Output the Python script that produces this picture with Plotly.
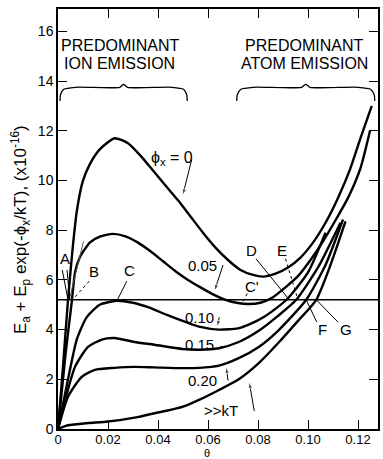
import plotly.graph_objects as go

# ---------------- data ----------------
theta_phi0 = [0, 0.002, 0.004, 0.0056, 0.0075, 0.0099, 0.0127, 0.0167, 0.0226, 0.028, 0.033,
              0.038, 0.043, 0.048, 0.053, 0.058, 0.063, 0.068, 0.073, 0.078, 0.082, 0.087,
              0.092, 0.097, 0.102, 0.107, 0.112, 0.117, 0.121, 0.1255]
y_phi0 = [0, 2.5, 5.2, 7.0, 8.75, 9.96, 10.65, 11.25, 11.7, 11.5, 11.0,
          10.4, 9.8, 9.2, 8.55, 7.9, 7.3, 6.8, 6.4, 6.2, 6.13, 6.25,
          6.5, 6.9, 7.5, 8.3, 9.3, 10.5, 11.7, 13.0]

theta_phi05 = [0, 0.003, 0.0056, 0.0068, 0.0087, 0.0127, 0.0167, 0.022, 0.027, 0.032, 0.037,
               0.042, 0.047, 0.052, 0.057, 0.062, 0.067, 0.072, 0.076, 0.081, 0.086, 0.091,
               0.096, 0.101, 0.106, 0.111, 0.116, 0.121, 0.1248]
y_phi05 = [0, 3.0, 5.2, 6.3, 6.9, 7.5, 7.74, 7.85, 7.75, 7.5, 7.15,
           6.75, 6.35, 6.0, 5.7, 5.42, 5.2, 5.07, 5.03, 5.08, 5.3, 5.7,
           6.15, 6.8, 7.55, 8.4, 9.3, 10.5, 12.0]

theta_phi10 = [0, 0.004, 0.0075, 0.0115, 0.0167, 0.0234, 0.03, 0.0366, 0.0433, 0.0512, 0.0564,
               0.0644, 0.072, 0.0763, 0.083, 0.0914, 0.1, 0.107]
y_phi10 = [0, 2.0, 3.6, 4.5, 5.0, 5.16, 5.08, 4.88, 4.6, 4.3, 4.12,
           4.0, 4.05, 4.2, 4.55, 5.2, 6.3, 7.9]

theta_phi15 = [0, 0.0068, 0.012, 0.0175, 0.0226, 0.0306, 0.0385, 0.0497, 0.0564, 0.0644, 0.0723,
               0.0803, 0.088, 0.0953, 0.104, 0.113]
y_phi15 = [0, 2.5, 3.3, 3.6, 3.66, 3.5, 3.39, 3.22, 3.19, 3.25, 3.5,
           3.95, 4.55, 5.2, 6.5, 8.3]

theta_phi20 = [0, 0.004, 0.0095, 0.0147, 0.0226, 0.0306, 0.0385, 0.0497, 0.0564, 0.0644, 0.0723,
               0.0803, 0.088, 0.0993, 0.107, 0.114]
y_phi20 = [0, 1.3, 2.1, 2.38, 2.46, 2.5, 2.48, 2.45, 2.46, 2.55, 2.85,
           3.3, 3.95, 5.2, 6.6, 8.43]

theta_kT = [0, 0.004, 0.012, 0.02, 0.0318, 0.0413, 0.0497, 0.0564, 0.0644, 0.0723, 0.0803,
            0.088, 0.096, 0.1033, 0.109, 0.115]
y_kT = [0, 0.15, 0.24, 0.3, 0.48, 0.69, 0.89, 1.17, 1.57, 2.0, 2.65,
        3.45, 4.35, 5.2, 6.6, 8.35]

theta_thin = [0.0045, 0.0102]
y_thin = [5.2, 7.55]

ref_level = 5.2
x_ticks = [0, 0.02, 0.04, 0.06, 0.08, 0.10, 0.12]
x_tick_labels = ["0", "0.02", "0.04", "0.06", "0.08", "0.10", "0.12"]
y_ticks = [0, 2, 4, 6, 8, 10, 12, 14, 16]
y_tick_labels = ["0", "2", "4", "6", "8", "10", "12", "14", "16"]

ion_span = [0.0008, 0.0517]
atom_span = [0.0715, 0.1267]
brace_level = 13.75

FONT = "Liberation Sans"

fig = go.Figure()

curves = [(theta_phi0, y_phi0), (theta_phi05, y_phi05), (theta_phi10, y_phi10),
          (theta_phi15, y_phi15), (theta_phi20, y_phi20), (theta_kT, y_kT)]
for tx, ty in curves:
    fig.add_trace(go.Scatter(x=tx, y=ty, mode="lines",
                             line=dict(color="black", width=2.4, shape="spline", smoothing=0.6),
                             hoverinfo="skip", showlegend=False))

fig.add_trace(go.Scatter(x=theta_thin, y=y_thin, mode="lines",
                         line=dict(color="#555", width=1), showlegend=False))

# horizontal reference line
fig.add_trace(go.Scatter(x=[0, 0.128], y=[ref_level, ref_level], mode="lines",
                         line=dict(color="black", width=1.5), showlegend=False))


def brace(span, level):
    a, b = span
    w = b - a
    m = (a + b) / 2
    xs = [a, a + 0.004 * w, a + 0.03 * w, a + 0.12 * w, m - 0.03 * w, m, m + 0.03 * w,
          b - 0.12 * w, b - 0.03 * w, b - 0.004 * w, b]
    ys = [level - 0.55, level - 0.3, level - 0.08, level, level, level + 0.12, level,
          level, level - 0.08, level - 0.3, level - 0.55]
    return xs, ys


for sp in (ion_span, atom_span):
    bx, by = brace(sp, brace_level)
    fig.add_trace(go.Scatter(x=bx, y=by, mode="lines",
                             line=dict(color="black", width=1.3, shape="spline", smoothing=0.6),
                             showlegend=False))

ann = []
shapes = []


def text(x, y, s, size=15):
    ann.append(dict(x=x, y=y, text=s, showarrow=False, font=dict(family=FONT, size=size, color="black"),
                    xanchor="center", yanchor="middle"))


def arrow(x0, y0, x1, y1):
    fig.add_trace(go.Scatter(x=[x0, x1], y=[y0, y1], mode="lines+markers",
                             line=dict(color="black", width=1),
                             marker=dict(symbol="arrow", size=[0, 7], angleref="previous", color="black"),
                             hoverinfo="skip", showlegend=False))


def leader(x0, y0, x1, y1, dash="solid"):
    shapes.append(dict(type="line", xref="x", yref="y", x0=x0, y0=y0, x1=x1, y1=y1,
                       line=dict(color="black", width=1, dash=dash)))


text(0.0246, 15.45, "PREDOMINANT", 16)
text(0.0246, 14.7, "ION EMISSION", 16)
text(0.0985, 15.45, "PREDOMINANT", 16)
text(0.0985, 14.7, "ATOM EMISSION", 16)

text(0.0455, 10.9, "ϕ<sub>x</sub> = 0", 16)
arrow(0.0535, 10.85, 0.0499, 9.4)
text(0.0576, 6.57, "0.05", 15)
arrow(0.0660, 6.6, 0.0626, 5.55)
text(0.0564, 4.5, "0.10", 15)
arrow(0.0645, 4.5, 0.0637, 4.1)
text(0.0564, 3.39, "0.15", 15)
leader(0.0652, 3.35, 0.0655, 3.25)
text(0.0576, 1.94, "0.20", 15)
arrow(0.068, 1.95, 0.0673, 2.5)
text(0.0652, 0.73, "&gt;&gt;kT", 15)
arrow(0.0785, 0.72, 0.0765, 1.9)

text(0.0028, 6.85, "A", 15)
leader(0.0017, 6.4, 0.0040, 5.2)
leader(0.0036, 6.4, 0.0047, 5.2)
text(0.0143, 6.33, "B", 15)
leader(0.0125, 5.95, 0.0058, 5.2, "dot")
text(0.0286, 6.37, "C", 15)
leader(0.0275, 5.95, 0.0238, 5.2)
text(0.0775, 5.75, "C'", 15)
leader(0.0757, 5.45, 0.0735, 5.05, "dot")
text(0.0772, 7.18, "D", 15)
leader(0.0792, 6.85, 0.0925, 5.2)
text(0.0895, 7.18, "E", 15)
leader(0.0910, 6.85, 0.0960, 5.2, "dot")
text(0.1057, 4.0, "F", 15)
leader(0.1035, 4.3, 0.0993, 5.2)
text(0.1152, 4.0, "G", 15)
leader(0.1120, 4.3, 0.1033, 5.2)

ann.append(dict(x=-0.115, y=0.474, xref="paper", yref="paper", textangle=-90, showarrow=False,
                text="E<sub>a</sub> + E<sub>p</sub> exp(-ϕ<sub>x</sub>/kT), (x10<sup>-16</sup>)",
                font=dict(family=FONT, size=17, color="black"), xanchor="center", yanchor="middle"))
ann.append(dict(x=0.465, y=-0.058, xref="paper", yref="paper", showarrow=False, text="θ",
                font=dict(family=FONT, size=11, color="black"), xanchor="center", yanchor="middle"))

fig.update_layout(
    width=383, height=459,
    margin=dict(l=58, r=3, t=9, b=30),
    plot_bgcolor="white", paper_bgcolor="white",
    annotations=ann, shapes=shapes,
    showlegend=False,
)
fig.update_xaxes(range=[0, 0.128], tickvals=x_ticks, ticktext=x_tick_labels,
                 ticks="inside", ticklen=9, tickwidth=1.2, tickcolor="black",
                 showline=True, linecolor="black", linewidth=1.5, mirror="ticks",
                 showgrid=False, zeroline=False, ticklabelstandoff=-2,
                 tickfont=dict(family=FONT, size=13, color="black"))
fig.update_yaxes(range=[0, 16.9], tickvals=y_ticks, ticktext=y_tick_labels,
                 ticks="inside", ticklen=9, tickwidth=1.2, tickcolor="black",
                 showline=True, linecolor="black", linewidth=1.5, mirror="ticks",
                 showgrid=False, zeroline=False,
                 tickfont=dict(family=FONT, size=14, color="black"))

fig.write_html("out.html")
